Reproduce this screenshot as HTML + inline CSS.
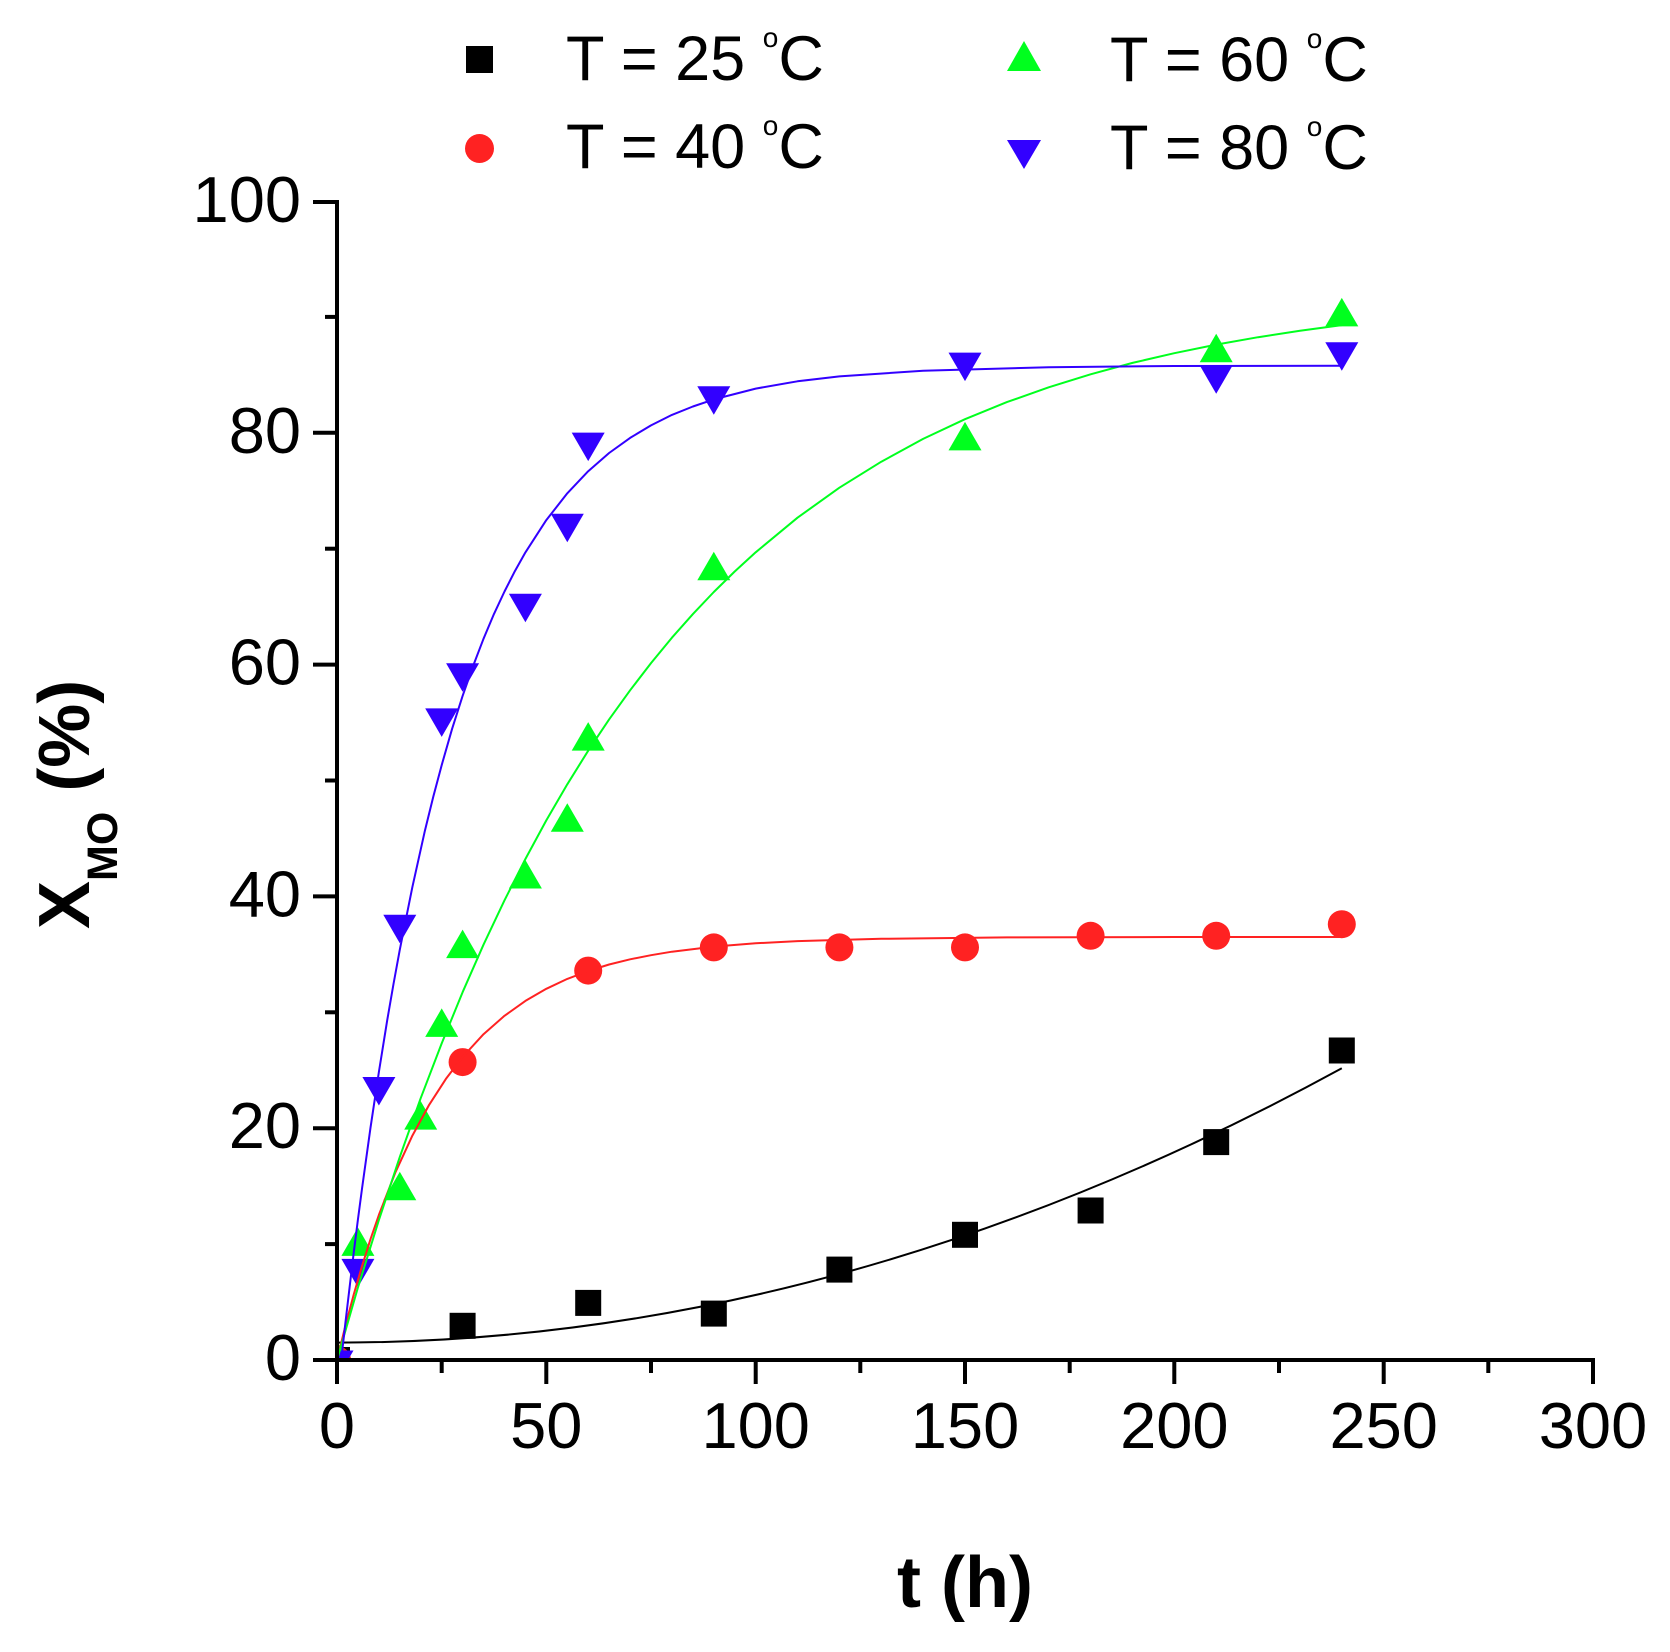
<!DOCTYPE html>
<html><head><meta charset="utf-8"><style>
html,body{margin:0;padding:0;background:#fff;}
svg{display:block;}
text{font-family:"Liberation Sans",Arial,sans-serif;}
</style></head><body>
<svg width="1670" height="1652" viewBox="0 0 1670 1652" xmlns="http://www.w3.org/2000/svg">
<rect x="0" y="0" width="1670" height="1652" fill="#fff"/>
<defs><clipPath id="pc"><rect x="337" y="150" width="1300" height="1210"/></clipPath></defs>

<g clip-path="url(#pc)">
<g fill="#000">
<rect x="324" y="1347" width="26" height="26"/>
<rect x="449.6" y="1312.8" width="26" height="26"/>
<rect x="575.2" y="1289.9" width="26" height="26"/>
<rect x="700.8" y="1300.6" width="26" height="26"/>
<rect x="826.4" y="1256.6" width="26" height="26"/>
<rect x="952" y="1221.8" width="26" height="26"/>
<rect x="1077.6" y="1197.5" width="26" height="26"/>
<rect x="1203.2" y="1129.1" width="26" height="26"/>
<rect x="1328.8" y="1037.5" width="26" height="26"/>
</g>
<g fill="#ff2222">
<circle cx="337" cy="1360" r="14"/>
<circle cx="462.6" cy="1062.1" r="14"/>
<circle cx="588.2" cy="970.6" r="14"/>
<circle cx="713.8" cy="947.4" r="14"/>
<circle cx="839.4" cy="947.4" r="14"/>
<circle cx="965" cy="947.4" r="14"/>
<circle cx="1090.6" cy="935.8" r="14"/>
<circle cx="1216.2" cy="935.8" r="14"/>
<circle cx="1341.8" cy="924.2" r="14"/>
</g>
<g fill="#00ff1e">
<path transform="translate(337,1360)" d="M0,-19L16.5,9.5L-16.5,9.5Z"/>
<path transform="translate(357.9,1246.4)" d="M0,-19L16.5,9.5L-16.5,9.5Z"/>
<path transform="translate(399.8,1190.8)" d="M0,-19L16.5,9.5L-16.5,9.5Z"/>
<path transform="translate(420.7,1120.1)" d="M0,-19L16.5,9.5L-16.5,9.5Z"/>
<path transform="translate(441.7,1027.4)" d="M0,-19L16.5,9.5L-16.5,9.5Z"/>
<path transform="translate(462.6,948.6)" d="M0,-19L16.5,9.5L-16.5,9.5Z"/>
<path transform="translate(525.4,879)" d="M0,-19L16.5,9.5L-16.5,9.5Z"/>
<path transform="translate(567.3,822.2)" d="M0,-19L16.5,9.5L-16.5,9.5Z"/>
<path transform="translate(588.2,741.1)" d="M0,-19L16.5,9.5L-16.5,9.5Z"/>
<path transform="translate(713.8,570.7)" d="M0,-19L16.5,9.5L-16.5,9.5Z"/>
<path transform="translate(965,440.9)" d="M0,-19L16.5,9.5L-16.5,9.5Z"/>
<path transform="translate(1216.2,352.8)" d="M0,-19L16.5,9.5L-16.5,9.5Z"/>
<path transform="translate(1341.8,316.9)" d="M0,-19L16.5,9.5L-16.5,9.5Z"/>
</g>
<g fill="#3200ff">
<path transform="translate(337,1360)" d="M-16.5,-9.5L16.5,-9.5L0,19Z"/>
<path transform="translate(357.9,1268.4)" d="M-16.5,-9.5L16.5,-9.5L0,19Z"/>
<path transform="translate(378.9,1086.5)" d="M-16.5,-9.5L16.5,-9.5L0,19Z"/>
<path transform="translate(399.8,924.2)" d="M-16.5,-9.5L16.5,-9.5L0,19Z"/>
<path transform="translate(441.7,717.9)" d="M-16.5,-9.5L16.5,-9.5L0,19Z"/>
<path transform="translate(462.6,672.7)" d="M-16.5,-9.5L16.5,-9.5L0,19Z"/>
<path transform="translate(525.4,603.2)" d="M-16.5,-9.5L16.5,-9.5L0,19Z"/>
<path transform="translate(567.3,523.2)" d="M-16.5,-9.5L16.5,-9.5L0,19Z"/>
<path transform="translate(588.2,442.1)" d="M-16.5,-9.5L16.5,-9.5L0,19Z"/>
<path transform="translate(713.8,395.7)" d="M-16.5,-9.5L16.5,-9.5L0,19Z"/>
<path transform="translate(965,362.1)" d="M-16.5,-9.5L16.5,-9.5L0,19Z"/>
<path transform="translate(1216.2,374.8)" d="M-16.5,-9.5L16.5,-9.5L0,19Z"/>
<path transform="translate(1341.8,351.7)" d="M-16.5,-9.5L16.5,-9.5L0,19Z"/>
</g>

<g fill="none" stroke-width="2" stroke-linejoin="round">
<path stroke="#000" d="M337,1342.6 Q839.4,1342.6 1341.8,1068.3"/>
<polyline stroke="#ff2222" points="337,1360 345.4,1325.9 353.7,1294.6 362.1,1265.8 370.5,1239.2 378.9,1214.9 395.6,1171.9 412.4,1135.6 429.1,1104.9 445.9,1078.9 462.6,1057 483.5,1034.2 504.5,1015.8 525.4,1000.9 546.3,988.8 567.3,978.9 588.2,971 609.1,964.5 630.1,959.3 651,955.2 671.9,951.7 713.8,946.6 755.7,943.3 797.5,941.1 881.3,938.8 1006.9,937.4 1174.3,937 1341.8,937"/>
<polyline stroke="#00ff1e" points="337,1360 357.9,1287.6 378.9,1220 399.8,1156.9 420.7,1098.2 441.7,1043.4 462.6,992.2 483.5,944.7 504.5,900.3 525.4,859 546.3,820.4 567.3,784.3 588.2,750.7 609.1,719.4 630.1,690.3 651,663.1 671.9,637.7 692.9,614.1 713.8,592 734.7,571.5 755.7,552.3 797.5,517.7 839.4,487.7 881.3,461.7 923.1,438.9 965,419.2 1006.9,402.1 1048.7,387.3 1090.6,374.3 1132.5,362.9 1174.3,353.2 1216.2,344.6 1258.1,337.2 1300,330.8 1341.8,325.1"/>
<polyline stroke="#3200ff" points="341.2,1360 345.4,1322.9 349.6,1287.2 353.7,1252.9 357.9,1219.8 362.1,1188 370.5,1127.7 378.9,1071.9 387.2,1020.3 393.5,984 399.8,949.7 412.4,886.9 424.9,830.7 433.3,796.6 441.7,765.1 452.1,728.8 462.6,695.9 473.1,666 483.5,638.8 494,613.9 504.5,591.5 514.9,571.1 525.4,552.4 546.3,520.1 567.3,493.3 588.2,471.2 609.1,453 630.1,437.9 651,425.4 671.9,414.9 692.9,406.5 713.8,399.4 755.7,388.6 797.5,381.3 839.4,376.4 923.1,370.7 1048.7,367.2 1174.3,366 1341.8,365.7"/>
</g>
</g>

<g stroke="#000" stroke-width="4" fill="none">
<line x1="337" y1="200" x2="337" y2="1362"/>
<line x1="335" y1="1360" x2="1595" y2="1360"/>
<line x1="313" y1="1360" x2="337" y2="1360"/>
<line x1="313" y1="1128.2" x2="337" y2="1128.2"/>
<line x1="313" y1="896.4" x2="337" y2="896.4"/>
<line x1="313" y1="664.6" x2="337" y2="664.6"/>
<line x1="313" y1="432.8" x2="337" y2="432.8"/>
<line x1="313" y1="202" x2="337" y2="202"/>
<line x1="325" y1="1244.1" x2="337" y2="1244.1"/>
<line x1="325" y1="1012.3" x2="337" y2="1012.3"/>
<line x1="325" y1="780.5" x2="337" y2="780.5"/>
<line x1="325" y1="548.7" x2="337" y2="548.7"/>
<line x1="325" y1="316.9" x2="337" y2="316.9"/>
<line x1="337" y1="1360" x2="337" y2="1384"/>
<line x1="546.3" y1="1360" x2="546.3" y2="1384"/>
<line x1="755.7" y1="1360" x2="755.7" y2="1384"/>
<line x1="965" y1="1360" x2="965" y2="1384"/>
<line x1="1174.3" y1="1360" x2="1174.3" y2="1384"/>
<line x1="1383.7" y1="1360" x2="1383.7" y2="1384"/>
<line x1="1593" y1="1358" x2="1593" y2="1384"/>
<line x1="441.7" y1="1360" x2="441.7" y2="1373"/>
<line x1="651" y1="1360" x2="651" y2="1373"/>
<line x1="860.3" y1="1360" x2="860.3" y2="1373"/>
<line x1="1069.7" y1="1360" x2="1069.7" y2="1373"/>
<line x1="1279" y1="1360" x2="1279" y2="1373"/>
<line x1="1488.3" y1="1360" x2="1488.3" y2="1373"/>
</g>

<g font-size="65" fill="#000">
<text x="301" y="1380" text-anchor="end">0</text>
<text x="301" y="1148.2" text-anchor="end">20</text>
<text x="301" y="916.4" text-anchor="end">40</text>
<text x="301" y="684.6" text-anchor="end">60</text>
<text x="301" y="452.8" text-anchor="end">80</text>
<text x="301" y="222" text-anchor="end">100</text>
<text x="337" y="1448" text-anchor="middle">0</text>
<text x="546.3" y="1448" text-anchor="middle">50</text>
<text x="755.7" y="1448" text-anchor="middle">100</text>
<text x="965" y="1448" text-anchor="middle">150</text>
<text x="1174.3" y="1448" text-anchor="middle">200</text>
<text x="1383.7" y="1448" text-anchor="middle">250</text>
<text x="1593" y="1448" text-anchor="middle">300</text>
</g>

<text x="965" y="1607" text-anchor="middle" font-size="72" font-weight="bold">t (h)</text>
<text transform="translate(89,929) rotate(-90)" font-size="72" font-weight="bold" xml:space="preserve">X<tspan font-size="43" dy="28">MO</tspan><tspan dy="-28"> (%)</tspan></text>

<rect x="466" y="46" width="27" height="27" fill="#000"/>
<circle cx="479.5" cy="148.5" r="14.5" fill="#ff2222"/>
<path d="M1024,41L1041,71L1007,71Z" fill="#00ff1e"/>
<path d="M1007,140L1041,140L1024,169Z" fill="#3200ff"/>
<g font-size="63" fill="#000">
<text x="566" y="80" xml:space="preserve">T = 25 <tspan font-size="28" dy="-33">o</tspan><tspan font-size="63" dy="33">C</tspan></text>
<text x="566" y="168" xml:space="preserve">T = 40 <tspan font-size="28" dy="-33">o</tspan><tspan font-size="63" dy="33">C</tspan></text>
<text x="1110" y="81" xml:space="preserve">T = 60 <tspan font-size="28" dy="-33">o</tspan><tspan font-size="63" dy="33">C</tspan></text>
<text x="1110" y="169" xml:space="preserve">T = 80 <tspan font-size="28" dy="-33">o</tspan><tspan font-size="63" dy="33">C</tspan></text>
</g>
</svg>
</body></html>
